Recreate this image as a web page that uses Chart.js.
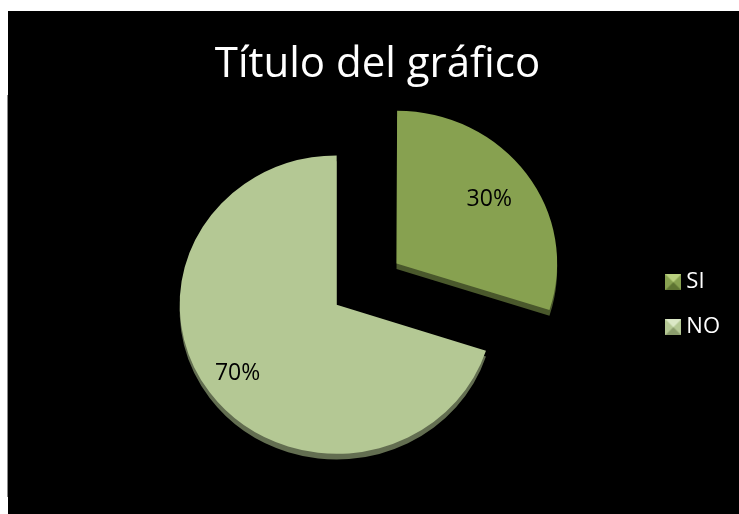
<!DOCTYPE html>
<html>
<head>
<meta charset="utf-8">
<script src="https://cdn.jsdelivr.net/npm/chart.js@4.4.1/dist/chart.umd.min.js"></script>
<style>
  html, body { margin: 0; padding: 0; background: #fff; }
  body { width: 739px; height: 514px; position: relative; overflow: hidden; }
  #edge { position: absolute; left: 7px; top: 95px; width: 1px; height: 402px; background: #8a8a8a; }
  #box { position: absolute; left: 8px; top: 11px; width: 731px; height: 503px; background: #000; }
</style>
</head>
<body>
<div id="edge"></div>
<div id="box"><canvas id="chart" width="731" height="503"></canvas></div>
<script>
// data
const categories = ['SI', 'NO'];
const values = [30, 70];
const titleText = 'Título del gráfico';
const sliceColors = ['#87a150', '#b4c894'];
const markerLight = ['#b9d07e', '#dbe8c6'];
const markerDark = ['#5e7432', '#8a9c6c'];

const FONT = "'Open Sans', sans-serif";
const TILT = 0.95; // pie is seen a little from above
const DEPTH = 6;
const labelRadius = [0.73, 0.78];

// small bevelled squares for the legend
function makeMarker(i) {
  const c = document.createElement('canvas');
  c.width = 16; c.height = 16;
  const g = c.getContext('2d');
  g.fillStyle = sliceColors[i];
  g.fillRect(0, 0, 16, 16);
  g.fillStyle = markerLight[i];
  g.beginPath(); g.moveTo(0, 0); g.lineTo(16, 0); g.lineTo(8, 8); g.closePath(); g.fill();
  g.fillStyle = markerDark[i];
  g.beginPath(); g.moveTo(0, 16); g.lineTo(16, 16); g.lineTo(8, 8); g.closePath(); g.fill();
  return c;
}
const markers = categories.map((_, i) => makeMarker(i));

// squash the pie a bit and add a darker edge under it
const depthPlugin = {
  id: 'depth',
  beforeDatasetsDraw(chart) {
    const ctx = chart.ctx;
    const meta = chart.getDatasetMeta(0);
    const a = chart.chartArea;
    const cx = (a.left + a.right) / 2, cy = (a.top + a.bottom) / 2;
    ctx.save();
    ctx.translate(cx, cy);
    ctx.scale(1, TILT);
    ctx.translate(-cx, -cy);
    ctx.save();
    ctx.translate(0, DEPTH);
    ctx.filter = 'brightness(55%)';
    meta.data.forEach(arc => arc.draw(ctx));
    ctx.restore();
  },
  afterDatasetsDraw(chart) {
    chart.ctx.restore();
  }
};

const pctPlugin = {
  id: 'pct',
  afterDatasetsDraw(chart) {
    const ctx = chart.ctx;
    const meta = chart.getDatasetMeta(0);
    const total = values.reduce((a, b) => a + b, 0);
    ctx.save();
    ctx.font = '23px ' + FONT;
    ctx.fillStyle = '#000';
    ctx.textAlign = 'center';
    ctx.textBaseline = 'middle';
    meta.data.forEach((arc, i) => {
      const p = arc.getProps(['x', 'y', 'startAngle', 'endAngle', 'outerRadius'], true);
      const mid = (p.startAngle + p.endAngle) / 2;
      const off = (arc.options.offset || 0) / 4;
      const r = p.outerRadius * labelRadius[i];
      const x = p.x + Math.cos(mid) * (r + off);
      const y = p.y + Math.sin(mid) * (r + off) * TILT;
      ctx.fillText(Math.round(values[i] / total * 100) + '%', x, y);
    });
    ctx.restore();
  }
};

new Chart(document.getElementById('chart'), {
  type: 'pie',
  data: {
    labels: categories,
    datasets: [{
      data: values,
      backgroundColor: sliceColors,
      borderWidth: 0,
      offset: [296, 0],
      radius: 157
    }]
  },
  options: {
    responsive: false,
    animation: false,
    devicePixelRatio: 1,
    layout: { padding: { left: 17, right: 9, top: 0, bottom: 20 } },
    plugins: {
      title: {
        display: true,
        text: titleText,
        color: '#fff',
        font: { family: FONT, size: 42, weight: 'normal' },
        padding: { top: 29, bottom: 25 }
      },
      legend: {
        position: 'right',
        fullSize: false,
        labels: {
          color: '#fff',
          font: { family: FONT, size: 22 },
          usePointStyle: true,
          pointStyleWidth: 4,
          padding: 23,
          generateLabels() {
            return categories.map((c, i) => ({
              text: c,
              fillStyle: sliceColors[i],
              strokeStyle: sliceColors[i],
              lineWidth: 0,
              pointStyle: markers[i],
              fontColor: '#fff',
              hidden: false,
              index: i
            }));
          }
        }
      },
      tooltip: { enabled: false }
    }
  },
  plugins: [depthPlugin, pctPlugin]
});
</script>
</body>
</html>
